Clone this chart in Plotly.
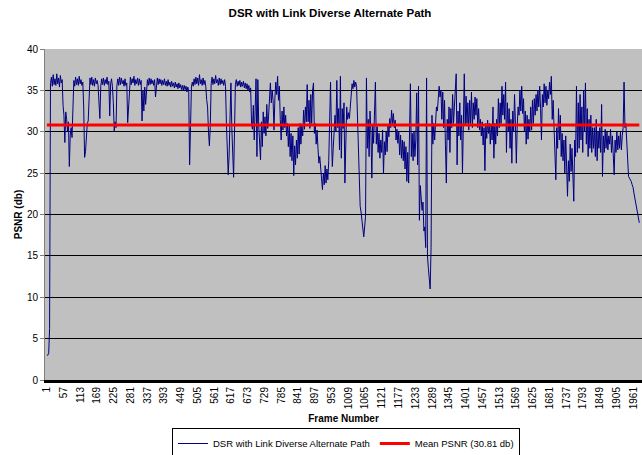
import plotly.graph_objects as go

# PSNR per frame (sampled every 3 frames, starting at frame 1)
FRAME_STEP = 3
PSNR = [
    3.0, 3.0, 3.2, 6.2, 35.8, 36.6, 35.5, 36.9, 35.7, 36.4,
    35.6, 37.0, 35.8, 36.5, 35.4, 36.8, 35.9, 36.3, 33.2, 32.0,
    28.7, 32.4, 31.5, 30.0, 31.2, 25.8, 29.6, 30.5, 29.3, 33.5,
    36.2, 35.5, 36.6, 35.7, 36.4, 35.6, 36.7, 35.8, 36.3, 35.6,
    36.0, 33.0, 26.9, 27.6, 29.5, 31.0, 31.3, 35.8, 36.5, 35.7,
    36.6, 35.6, 36.3, 35.5, 36.5, 35.8, 36.2, 35.6, 34.0, 31.6,
    35.5, 36.4, 35.7, 36.5, 35.6, 36.3, 35.8, 36.6, 35.7, 36.1,
    31.9, 35.8, 36.4, 35.5, 33.5, 30.1, 31.2, 30.5, 35.6, 36.4,
    35.6, 36.6, 35.7, 36.5, 35.8, 36.2, 35.5, 36.4, 35.6, 35.9,
    31.1, 33.0, 35.8, 36.6, 35.7, 36.4, 35.9, 36.7, 35.6, 36.3,
    35.8, 36.5, 35.6, 36.4, 35.7, 36.2, 31.3, 35.0, 32.5, 35.4,
    33.3, 35.2, 36.3, 35.6, 36.5, 35.7, 36.4, 35.8, 36.2, 35.6,
    36.3, 34.2, 35.9, 36.5, 35.7, 36.4, 35.8, 36.3, 35.6, 36.2,
    35.7, 36.4, 35.6, 36.1, 35.5, 36.3, 35.6, 36.0, 35.4, 36.1,
    35.5, 35.9, 35.3, 36.0, 35.4, 35.8, 35.2, 35.9, 35.3, 35.7,
    35.1, 35.6, 35.0, 35.6, 35.1, 35.5, 34.8, 35.4, 34.9, 26.0,
    30.5, 35.4, 36.0, 35.5, 36.4, 35.7, 36.6, 35.8, 36.5, 35.6,
    36.9, 35.8, 36.3, 35.6, 36.5, 35.7, 36.2, 35.5, 33.9, 33.0,
    30.0, 28.3, 30.5, 35.8, 36.6, 35.7, 36.4, 35.8, 36.8, 35.9,
    36.3, 35.6, 36.5, 35.7, 36.4, 35.8, 36.2, 35.6, 36.3, 35.5,
    31.0, 28.0, 24.8, 27.2, 33.0, 35.9, 30.5, 26.0, 24.5, 30.0,
    35.7, 36.3, 35.5, 36.1, 35.6, 36.2, 35.4, 36.0, 35.5, 36.1,
    35.3, 35.9, 35.2, 35.8, 35.0, 35.6, 34.8, 35.3, 31.0, 30.3,
    33.2, 29.0, 33.5, 36.4, 27.0, 36.3, 30.8, 28.5, 26.6, 31.2,
    28.2, 32.4, 29.8, 31.8, 29.5, 33.3, 30.4, 32.0, 34.0, 35.9,
    33.5, 35.0, 33.8, 30.2, 34.0, 36.0, 34.5, 36.7, 33.8, 35.5,
    31.5, 29.0, 32.5, 30.2, 33.0, 30.5, 32.0, 29.5, 31.0, 28.2,
    30.7, 27.0, 29.8, 26.5, 29.5, 24.7, 28.3, 26.0, 29.0, 26.8,
    30.5, 27.3, 31.0, 28.5, 30.8, 29.5, 32.6, 30.3, 33.0, 31.2,
    35.7, 31.2, 33.8, 30.4, 34.5, 31.0, 35.0, 35.9, 29.8, 31.0,
    28.5, 30.2, 28.0, 26.2, 27.0, 25.3, 24.0, 23.0, 25.0, 23.6,
    25.9, 23.8, 25.5, 24.2, 26.5, 30.0, 36.0, 30.0, 25.8, 28.0,
    29.5, 32.0, 30.0, 36.2, 30.5, 32.8, 27.8, 36.7, 26.8, 32.8,
    30.4, 33.5, 23.8, 31.0, 33.0, 31.5, 32.3, 31.6, 33.5, 34.5,
    35.8, 35.2, 36.2, 35.4, 36.0, 35.5, 32.0, 28.0, 22.8, 21.0,
    20.3, 19.0, 18.0, 17.3, 18.5, 19.8, 36.5, 28.0, 31.5, 27.0,
    32.5, 30.0, 24.4, 30.8, 28.6, 33.0, 36.0, 28.5, 30.6, 27.5,
    29.8, 26.8, 29.0, 27.5, 30.2, 24.9, 28.8, 27.2, 30.0, 27.6,
    30.7, 29.4, 31.6, 30.5, 32.6, 31.0, 32.2, 30.5, 31.4, 29.0,
    30.3, 28.6, 30.0, 27.2, 29.6, 26.8, 29.0, 26.5, 28.8, 25.5,
    28.2, 24.0, 27.5, 23.8, 29.0, 35.8, 27.0, 29.8, 26.5, 30.0,
    27.0, 29.0, 34.7, 26.0, 35.5, 19.3, 23.5, 22.0, 20.5, 21.5,
    18.0, 18.5, 16.0, 36.5, 15.0, 13.5, 11.5, 11.0, 16.0, 32.0,
    28.5, 31.0, 29.0, 31.5, 33.0, 32.5, 34.5, 35.5, 34.2, 35.0,
    31.5, 34.8, 30.5, 33.8, 28.5, 23.8, 31.5, 29.0, 33.0, 27.5,
    32.8, 30.5, 34.5, 31.0, 33.0, 35.0, 37.0, 26.0, 32.5, 29.5,
    33.5, 29.0, 32.0, 25.0, 31.0, 37.0, 30.8, 34.3, 31.0, 33.5,
    30.2, 33.8, 31.0, 34.8, 30.5, 33.5, 31.5, 34.2, 32.0, 34.0,
    30.5, 32.8, 30.2, 31.5, 29.5, 31.2, 28.4, 30.5, 25.3, 31.0,
    29.2, 31.4, 29.8, 31.0, 28.5, 30.8, 29.0, 33.0, 26.8, 31.0,
    28.5, 31.5, 29.5, 34.0, 30.5, 33.5, 31.0, 35.5, 32.0, 34.5,
    31.5, 36.0, 27.5, 33.5, 30.0, 32.8, 28.0, 31.5, 26.2, 32.5,
    30.0, 34.5, 31.0, 26.2, 30.8, 33.0, 32.0, 35.0, 32.5, 35.5,
    32.2, 34.0, 30.0, 32.5, 28.5, 32.0, 29.1, 31.5, 30.0, 33.0,
    30.2, 33.8, 31.0, 34.0, 32.0, 34.5, 32.5, 35.0, 33.0, 35.5,
    32.8, 29.0, 34.5, 33.0, 35.8, 33.5, 35.5, 33.2, 35.0, 34.0,
    36.0, 34.5, 36.7, 31.5, 33.8, 30.5, 27.0, 24.2, 30.5, 28.0,
    32.8, 29.0, 32.0, 27.0, 29.8, 26.5, 29.0, 25.0, 29.5, 24.5,
    22.2, 26.5, 24.0, 28.5, 25.2, 28.0, 23.0, 21.6, 29.0, 27.0,
    35.5, 27.5, 33.5, 28.0, 34.5, 29.0, 33.0, 27.5, 35.0, 30.0,
    35.9, 28.5, 32.8, 27.0, 31.5, 28.0, 32.0, 27.5, 30.5, 28.0,
    30.5, 27.0, 31.5, 26.5, 30.0, 28.0, 30.5, 27.5, 33.3, 24.6,
    29.5, 27.5, 30.3, 28.0, 30.0, 27.8, 29.5, 28.5, 30.3, 27.5,
    29.5, 27.0, 24.8, 29.0, 27.5, 30.0, 27.8, 29.5, 28.0, 30.0,
    27.8, 29.5, 30.5, 36.0, 30.5, 31.0, 29.0, 27.5, 24.6, 24.4,
    24.2, 24.0, 23.6, 23.3, 22.6, 22.0, 21.4, 20.8, 20.2, 19.6,
    19.0,
]
MEAN_PSNR = 30.81

TICK_FRAMES = [1, 57, 113, 169, 225, 281, 337, 393, 449, 505, 561, 617,
               673, 729, 785, 841, 897, 953, 1009, 1065, 1121, 1177, 1233,
               1289, 1345, 1401, 1457, 1513, 1569, 1625, 1681, 1737, 1793,
               1849, 1905, 1961]

frames = [1 + FRAME_STEP * i for i in range(len(PSNR))]

FONT = "Liberation Sans, Arial, sans-serif"

fig = go.Figure()
fig.add_trace(go.Scatter(
    x=frames, y=PSNR, mode="lines",
    name="DSR with Link Diverse Alternate Path",
    line=dict(color="#000080", width=1),
))
fig.add_trace(go.Scatter(
    x=frames, y=[MEAN_PSNR] * len(frames), mode="lines",
    name=f"Mean PSNR ({MEAN_PSNR:.2f} db)",
    line=dict(color="#FF0000", width=3),
))

fig.update_layout(
    width=642, height=455,
    margin=dict(l=45, r=0, t=49, b=75, autoexpand=False),
    paper_bgcolor="white",
    plot_bgcolor="#C0C0C0",
    font=dict(family=FONT, size=10, color="black"),
    title=dict(
        text="<b>DSR with Link Diverse Alternate Path</b>",
        x=330 / 642, xanchor="center",
        y=1 - 13 / 455, yanchor="middle",
        font=dict(size=11.5, family=FONT, color="black"),
    ),
    showlegend=True,
    legend=dict(
        orientation="h",
        xref="container", yref="container",
        x=346 / 642, xanchor="center",
        y=1 - 428 / 455, yanchor="top",
        bordercolor="black", borderwidth=1,
        bgcolor="white",
        font=dict(size=9.5, family=FONT),
        itemwidth=30,
        tracegroupgap=0,
    ),
)

fig.update_xaxes(
    range=[-5.35, 1990],
    automargin=False,
    tickmode="array",
    tickvals=TICK_FRAMES,
    ticktext=[str(t) for t in TICK_FRAMES],
    tickangle=-90,
    tickfont=dict(size=10, family=FONT),
    showgrid=False,
    zeroline=False,
    showline=True, linecolor="black", linewidth=3,
    ticks="",
    title=dict(text="<b>Frame Number</b>", font=dict(size=10, family=FONT),
               standoff=7),
)

fig.update_yaxes(
    range=[0, 40],
    automargin=False,
    dtick=5,
    showgrid=True, gridcolor="black", gridwidth=1,
    zeroline=False,
    showline=True, linecolor="#808080", linewidth=1,
    ticks="outside", ticklen=4, tickcolor="#808080",
    tickfont=dict(size=10, family=FONT),
    title=dict(text="<b>PSNR (db)</b>", font=dict(size=10, family=FONT),
               standoff=2),
)

fig.write_html("out.html")
